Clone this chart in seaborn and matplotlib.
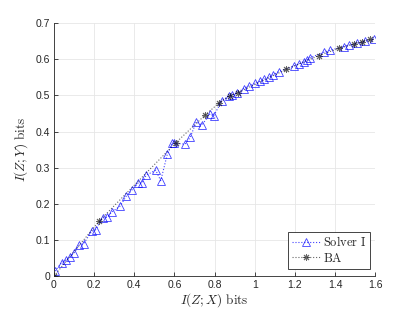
import matplotlib
matplotlib.use("Agg")
import matplotlib.pyplot as plt
import seaborn as sns
import pandas as pd
from matplotlib.lines import Line2D

# Data
solver_x = [0.005, 0.038, 0.06, 0.08, 0.10, 0.126, 0.148, 0.188, 0.207, 0.242, 0.265,
            0.288, 0.33, 0.36, 0.388, 0.42, 0.438, 0.459, 0.507, 0.532, 0.565, 0.59,
            0.60, 0.653, 0.679, 0.709, 0.737, 0.778, 0.795, 0.837, 0.87, 0.887, 0.912,
            0.945, 0.97, 1.003, 1.028, 1.045, 1.07, 1.092, 1.12, 1.194, 1.219, 1.244,
            1.26, 1.275, 1.344, 1.374, 1.444, 1.469, 1.51, 1.551, 1.596]
solver_y = [0.014, 0.037, 0.045, 0.053, 0.064, 0.086, 0.09, 0.124, 0.128, 0.161, 0.163,
            0.177, 0.194, 0.221, 0.238, 0.258, 0.257, 0.279, 0.293, 0.264, 0.338, 0.367,
            0.368, 0.365, 0.384, 0.427, 0.418, 0.449, 0.443, 0.485, 0.498, 0.500, 0.507,
            0.519, 0.526, 0.533, 0.540, 0.544, 0.550, 0.557, 0.566, 0.581, 0.587, 0.593,
            0.598, 0.604, 0.619, 0.625, 0.635, 0.639, 0.644, 0.650, 0.656]
ba_x = [0.0, 0.225, 0.607, 0.752, 0.824, 0.875, 0.915, 1.158, 1.319, 1.419, 1.494, 1.535, 1.576]
ba_y = [0.0, 0.152, 0.369, 0.445, 0.480, 0.499, 0.507, 0.572, 0.610, 0.630, 0.642, 0.648, 0.655]
x_ticks = [0, 0.2, 0.4, 0.6, 0.8, 1.0, 1.2, 1.4, 1.6]
x_tick_labels = ["0", "0.2", "0.4", "0.6", "0.8", "1", "1.2", "1.4", "1.6"]
y_ticks = [0, 0.1, 0.2, 0.3, 0.4, 0.5, 0.6, 0.7]
y_tick_labels = ["0", "0.1", "0.2", "0.3", "0.4", "0.5", "0.6", "0.7"]

sns.set_theme(style="whitegrid")
plt.rcParams["font.family"] = ["Liberation Sans", "DejaVu Sans"]
plt.rcParams["mathtext.fontset"] = "cm"

fig = plt.figure(figsize=(4.15, 3.12), dpi=100)
ax = fig.add_axes([0.130, 0.115, 0.774, 0.811])
ax.set_facecolor("white")

df_s = pd.DataFrame({"x": solver_x, "y": solver_y})
df_b = pd.DataFrame({"x": ba_x, "y": ba_y})

blue = "#0000ff"
sns.lineplot(data=df_s, x="x", y="y", sort=False, ax=ax, color=blue, linestyle=":",
             linewidth=0.8, marker="^", markersize=6, markerfacecolor="none",
             markeredgecolor=blue, markeredgewidth=0.6, alpha=0.75)
sns.lineplot(data=df_b, x="x", y="y", sort=False, ax=ax, color="black", linestyle=":",
             linewidth=0.8, marker=(8, 2, 0), markersize=5, markeredgecolor="black",
             markeredgewidth=0.7, alpha=0.6)

ax.set_xlim(0, 1.6)
ax.set_ylim(0, 0.7)
ax.set_xticks(x_ticks)
ax.set_xticklabels(x_tick_labels)
ax.set_yticks(y_ticks)
ax.set_yticklabels(y_tick_labels)
ax.tick_params(axis="both", direction="in", length=3, width=0.6, color="#262626",
               labelsize=7.5, labelcolor="#262626", pad=2.5, bottom=True, left=True)
ax.grid(True, color="#e6e6e6", linewidth=0.6)
for side in ["top", "right"]:
    ax.spines[side].set_visible(False)
for side in ["left", "bottom"]:
    ax.spines[side].set_visible(True)
    ax.spines[side].set_color("#262626")
    ax.spines[side].set_linewidth(0.6)

ax.set_xlabel(r"$I(Z;X)\ \mathrm{bits}$", fontsize=9.5, labelpad=1, color="#262626")
ax.set_ylabel(r"$I(Z;Y)\ \mathrm{bits}$", fontsize=9.5, labelpad=4, color="#262626")

handles = [
    Line2D([], [], color=blue, linestyle=":", linewidth=0.8, marker="^", markersize=6,
           markerfacecolor="none", markeredgecolor=blue, markeredgewidth=0.6, alpha=0.75),
    Line2D([], [], color="black", linestyle=":", linewidth=0.8, marker=(8, 2, 0),
           markersize=5, markeredgecolor="black", markeredgewidth=0.7, alpha=0.6),
]
leg = ax.legend(handles, [r"$\mathrm{Solver\ I}$", r"$\mathrm{BA}$"], loc="lower right",
                bbox_to_anchor=(0.993, 0.02), fontsize=9, frameon=True, fancybox=False,
                framealpha=1, edgecolor="#262626", handlelength=2.2, handletextpad=0.3,
                borderpad=0.3, labelspacing=0.2, borderaxespad=0.2)
leg.get_frame().set_linewidth(0.6)

fig.savefig("out.png", dpi=100, facecolor="white")
